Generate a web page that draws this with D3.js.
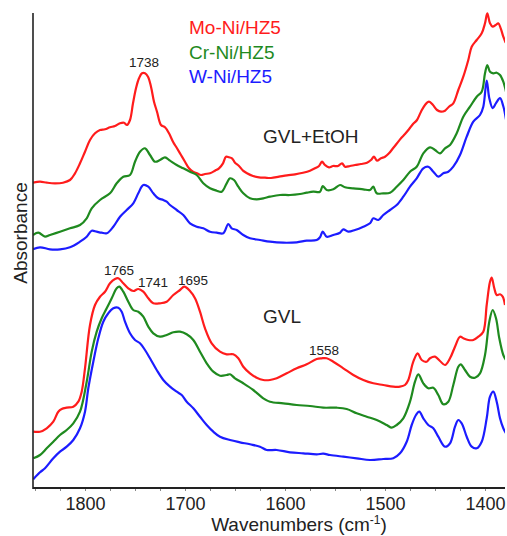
<!DOCTYPE html>
<html><head><meta charset="utf-8">
<script src="https://cdn.jsdelivr.net/npm/d3@7"></script>
<style>
html,body{margin:0;padding:0;background:#fff;}
text{font-family:"Liberation Sans",Arial,sans-serif;}
</style></head>
<body><div id="chart"></div>
<script>
// ---- data: [wavenumber (cm-1), absorbance (a.u., offset)] ----
const etohMo = [[1852,3.053],[1845,3.063],[1838,3.053],[1830,3.047],[1822,3.053],[1815,3.08],[1810,3.147],[1805,3.247],[1800,3.363],[1795,3.48],[1790,3.547],[1785,3.58],[1780,3.587],[1775,3.607],[1770,3.62],[1765,3.647],[1761,3.653],[1758,3.63],[1755,3.68],[1752,3.847],[1749,3.997],[1746,4.097],[1743,4.147],[1740,4.147],[1737,4.113],[1734,4.013],[1731,3.863],[1728,3.763],[1724,3.63],[1720,3.607],[1716,3.547],[1712,3.463],[1708,3.397],[1704,3.33],[1700,3.263],[1696,3.197],[1692,3.163],[1688,3.147],[1684,3.13],[1680,3.14],[1675,3.147],[1670,3.173],[1666,3.197],[1662,3.247],[1659,3.313],[1656,3.307],[1653,3.297],[1650,3.253],[1646,3.22],[1642,3.173],[1638,3.147],[1632,3.12],[1626,3.107],[1620,3.103],[1614,3.1],[1606,3.113],[1598,3.127],[1590,3.137],[1582,3.153],[1575,3.173],[1570,3.197],[1566,3.22],[1563,3.263],[1560,3.23],[1556,3.207],[1552,3.22],[1547,3.22],[1543,3.247],[1540,3.213],[1535,3.22],[1530,3.23],[1524,3.24],[1518,3.253],[1514,3.28],[1511,3.313],[1508,3.273],[1504,3.297],[1500,3.313],[1496,3.347],[1492,3.397],[1488,3.447],[1484,3.497],[1480,3.54],[1476,3.587],[1472,3.64],[1468,3.68],[1464,3.763],[1460,3.83],[1456,3.863],[1452,3.83],[1448,3.78],[1444,3.763],[1440,3.773],[1436,3.813],[1431.7,3.847],[1426.7,3.98],[1421.7,4.113],[1416.7,4.28],[1413.3,4.413],[1408.3,4.48],[1403.3,4.547],[1400,4.647],[1397.7,4.747],[1395,4.647],[1392.3,4.613],[1389.3,4.63],[1386.7,4.647],[1384.3,4.597],[1381.7,4.513],[1379.3,4.453]];
const etohCr = [[1852,2.53],[1846.7,2.553],[1840,2.513],[1835,2.53],[1825,2.563],[1815,2.597],[1805,2.63],[1798.3,2.697],[1793.3,2.797],[1785,2.88],[1775,2.947],[1768.3,3.047],[1761.7,3.113],[1755,3.13],[1750,3.263],[1745,3.363],[1740,3.397],[1735,3.33],[1730,3.263],[1725,3.28],[1720,3.307],[1715,3.273],[1708.3,3.23],[1701.7,3.197],[1695,3.163],[1688.3,3.13],[1681.7,3.047],[1675,2.997],[1668.3,2.973],[1663.3,2.963],[1658.3,3.047],[1655,3.097],[1651,3.08],[1646.7,3.013],[1641.7,2.947],[1635,2.897],[1628.3,2.887],[1621.7,2.897],[1615,2.913],[1605,2.93],[1595,2.93],[1585,2.94],[1578.3,2.953],[1571.7,2.963],[1565,2.963],[1562.3,3.02],[1558.3,2.98],[1551.7,2.987],[1545,3.03],[1540,3.007],[1531.7,2.997],[1521.7,2.987],[1515,2.98],[1511.7,3.013],[1508.3,2.947],[1501.7,2.947],[1495,2.953],[1488.3,3.013],[1481.7,3.08],[1475,3.163],[1468.3,3.213],[1461.7,3.347],[1455,3.407],[1450,3.38],[1445,3.347],[1440,3.397],[1435,3.43],[1428.3,3.547],[1421.7,3.713],[1415,3.813],[1408.3,3.913],[1403.3,3.963],[1400,4.147],[1397.7,4.23],[1395,4.163],[1391.7,4.147],[1388.3,4.153],[1385,4.13],[1381.7,4.063],[1379,3.963]];
const etohW = [[1852,2.387],[1845,2.407],[1835,2.387],[1825,2.387],[1815,2.407],[1805,2.463],[1798.3,2.513],[1793.3,2.573],[1788.3,2.563],[1783.3,2.553],[1778.3,2.547],[1771.7,2.613],[1765,2.713],[1758.3,2.78],[1751.7,2.847],[1746.7,2.947],[1741.7,3.03],[1736.7,3.013],[1731.7,2.947],[1726.7,2.897],[1721.7,2.88],[1718.3,2.863],[1715,2.83],[1708.3,2.78],[1701.7,2.73],[1695,2.647],[1688.3,2.613],[1681.7,2.597],[1675,2.563],[1668.3,2.553],[1661.7,2.547],[1656.7,2.64],[1653.3,2.597],[1648.3,2.58],[1641.7,2.53],[1635,2.497],[1625,2.48],[1615,2.463],[1601.7,2.453],[1588.3,2.457],[1578.3,2.473],[1568.3,2.48],[1565,2.507],[1562.3,2.563],[1558.3,2.513],[1551.7,2.53],[1545,2.553],[1541.7,2.587],[1536.7,2.563],[1530,2.58],[1521.7,2.613],[1515,2.647],[1511.7,2.697],[1506.7,2.68],[1501.7,2.73],[1495,2.78],[1488.3,2.83],[1481.7,2.913],[1475,3.013],[1468.3,3.097],[1461.7,3.197],[1456.7,3.213],[1451.7,3.163],[1446.7,3.113],[1441.7,3.147],[1436.7,3.163],[1431.7,3.213],[1425,3.33],[1418.3,3.513],[1411.7,3.663],[1405,3.73],[1401.7,3.813],[1398.3,4.073],[1395.7,3.898],[1392.3,3.798],[1389,3.848],[1385,3.898],[1381.7,3.817],[1379,3.683]];
const gvlMo = [[1851.7,0.563],[1845,0.563],[1838.3,0.597],[1831.7,0.663],[1826.7,0.763],[1823.3,0.79],[1818.3,0.803],[1811.7,0.813],[1806.7,0.863],[1803.3,0.963],[1800,1.197],[1795,1.63],[1790,1.83],[1785,1.913],[1780,1.963],[1775,2.047],[1770,2.09],[1766.7,2.097],[1761.7,2.047],[1756.7,1.997],[1751.7,1.97],[1746.7,1.99],[1741.7,1.963],[1736.7,1.897],[1731.7,1.847],[1725,1.847],[1718.3,1.863],[1711.7,1.93],[1705,1.98],[1700.7,2.013],[1695,1.97],[1690,1.897],[1685,1.763],[1680,1.597],[1673.3,1.447],[1665,1.363],[1658.3,1.337],[1651.7,1.337],[1646.7,1.297],[1641.7,1.213],[1635,1.147],[1628.3,1.103],[1621.7,1.08],[1615,1.08],[1608.3,1.097],[1598.3,1.147],[1588.3,1.197],[1578.3,1.237],[1568.3,1.29],[1563.3,1.297],[1558.3,1.297],[1551.7,1.263],[1541.7,1.197],[1531.7,1.13],[1521.7,1.08],[1511.7,1.047],[1501.7,1.03],[1491.7,1.013],[1485,1.013],[1480,1.03],[1476.7,1.08],[1471.7,1.263],[1467.3,1.347],[1463.3,1.28],[1458.3,1.263],[1455,1.297],[1450,1.313],[1445,1.27],[1440,1.23],[1435,1.297],[1430,1.413],[1425,1.513],[1421.7,1.497],[1416.7,1.48],[1411.7,1.48],[1406.7,1.513],[1401.7,1.563],[1398.3,1.83],[1395,2.063],[1393.3,2.103],[1390.7,1.997],[1388.3,1.93],[1385,1.937],[1382.3,1.913],[1380,1.83]];
const gvlCr = [[1851.7,0.297],[1845,0.33],[1838.3,0.397],[1831.7,0.463],[1825,0.53],[1818.3,0.58],[1811.7,0.647],[1805,0.763],[1798.3,1.063],[1793.3,1.363],[1788.3,1.563],[1783.3,1.697],[1778.3,1.797],[1773.3,1.897],[1768.3,1.997],[1765.7,2.013],[1761.7,1.963],[1756.7,1.863],[1751.7,1.78],[1746.7,1.763],[1741.7,1.713],[1736.7,1.613],[1731.7,1.547],[1725,1.513],[1718.3,1.53],[1711.7,1.557],[1705,1.563],[1698.3,1.537],[1691.7,1.48],[1685,1.363],[1678.3,1.247],[1671.7,1.163],[1665,1.123],[1658.3,1.13],[1655,1.137],[1650,1.097],[1641.7,1.047],[1631.7,0.98],[1621.7,0.897],[1615,0.863],[1601.7,0.847],[1588.3,0.83],[1575,0.82],[1561.7,0.803],[1548.3,0.803],[1538.3,0.79],[1528.3,0.747],[1518.3,0.713],[1508.3,0.68],[1498.3,0.63],[1493.3,0.603],[1488.3,0.63],[1481.7,0.697],[1475,0.863],[1470,1.063],[1466.7,1.137],[1461.7,1.047],[1456.7,0.997],[1451.7,1.003],[1446.7,0.93],[1441.7,0.837],[1436.7,0.863],[1431.7,1.03],[1426.7,1.213],[1424.3,1.237],[1420,1.18],[1415,1.113],[1410,1.103],[1405,1.147],[1400,1.33],[1395.7,1.663],[1392.3,1.78],[1389,1.697],[1385.7,1.497],[1381.7,1.33],[1379,1.28]];
const gvlW = [[1851.7,0.087],[1845,0.157],[1840,0.197],[1831.7,0.297],[1825,0.363],[1818.3,0.413],[1811.7,0.48],[1805,0.597],[1800,0.763],[1796.7,0.997],[1791.7,1.263],[1786.7,1.497],[1781.7,1.663],[1776.7,1.747],[1771.7,1.797],[1766.7,1.803],[1763.3,1.763],[1760,1.663],[1755,1.547],[1750,1.48],[1745,1.447],[1740,1.38],[1735,1.297],[1728.3,1.18],[1721.7,1.08],[1715,1.013],[1708.3,0.963],[1703.3,0.93],[1698.3,0.863],[1691.7,0.797],[1685,0.713],[1678.3,0.63],[1671.7,0.563],[1665,0.513],[1655,0.48],[1645,0.457],[1635,0.437],[1625,0.413],[1618.3,0.38],[1608.3,0.38],[1595,0.357],[1581.7,0.347],[1568.3,0.337],[1561.7,0.343],[1555,0.33],[1541.7,0.313],[1528.3,0.297],[1515,0.28],[1501.7,0.29],[1491.7,0.297],[1485,0.347],[1478.3,0.463],[1473.3,0.63],[1469,0.73],[1465.7,0.763],[1461.7,0.697],[1456.7,0.63],[1451.7,0.597],[1446.7,0.513],[1440,0.413],[1435,0.447],[1430,0.613],[1426.7,0.68],[1423.3,0.647],[1418.3,0.513],[1413.3,0.413],[1408.3,0.397],[1403.3,0.463],[1398.3,0.697],[1395,0.913],[1391.7,0.963],[1388.3,0.863],[1385,0.697],[1381.7,0.597],[1379,0.547]];

const seriesNames = ["Mo-Ni/HZ5","Cr-Ni/HZ5","W-Ni/HZ5"];
const seriesColors = ["#ff1c1c","#1f8a1f","#1c1cff"];
const xTickValues = [1800,1700,1600,1500,1400];
const xMinorTicks = d3.range(1850, 1379, -25);
const panelLabels = [{text:"GVL+EtOH", w:1622, a:3.45},{text:"GVL", w:1622, a:1.65}];
const peakLabels = [{text:"1738", w:1741, a:4.21},{text:"1765", w:1766, a:2.13},{text:"1741", w:1732, a:2.01},{text:"1695", w:1692, a:2.03},{text:"1558", w:1561, a:1.33}];

// ---- layout ----
const W = 507, H = 536;
const x = d3.scaleLinear().domain([1852, 1380]).range([33, 505]);
const y = d3.scaleLinear().domain([0, 4.75]).range([488, 13]);

const svg = d3.select("#chart").append("svg").attr("width", W).attr("height", H);
svg.append("defs").append("clipPath").attr("id","plot")
  .append("rect").attr("x",33).attr("y",0).attr("width",472).attr("height",488);

const line = d3.line().x(d=>x(d[0])).y(d=>y(d[1])).curve(d3.curveCatmullRom.alpha(0.5));
const groups = [[etohMo, gvlMo],[etohCr, gvlCr],[etohW, gvlW]];
const g = svg.append("g").attr("clip-path","url(#plot)");
groups.forEach((pair,i)=>{
  pair.forEach(data=>{
    g.append("path").datum(data).attr("d", line)
      .attr("fill","none").attr("stroke", seriesColors[i])
      .attr("stroke-width",2.2).attr("stroke-linejoin","round");
  });
});

// axes
const xAxisMinor = d3.axisBottom(x).tickValues(xMinorTicks).tickSize(3).tickFormat("");
svg.append("g").attr("transform","translate(0,488)").call(xAxisMinor)
  .call(s=>{s.select(".domain").remove(); s.selectAll("line").attr("stroke","#888");});
const xAxis = d3.axisBottom(x).tickValues(xTickValues).tickSize(0).tickPadding(7).tickFormat(d3.format("d"));
svg.append("g").attr("transform","translate(0,488)").call(xAxis)
  .call(s=>{
    s.select(".domain").remove();
    s.selectAll("text").attr("font-size",18).attr("fill","#222").attr("font-family","Liberation Sans, Arial, sans-serif").attr("dy","0.85em");
  });
svg.append("line").attr("x1",33).attr("x2",505).attr("y1",488).attr("y2",488).attr("stroke","#222").attr("stroke-width",2);
svg.append("line").attr("x1",33).attr("x2",33).attr("y1",13).attr("y2",489).attr("stroke","#222").attr("stroke-width",1.6);

// axis titles
const xt = svg.append("text").attr("x",299).attr("y",531).attr("text-anchor","middle")
  .attr("font-size",19).attr("fill","#222");
xt.append("tspan").text("Wavenumbers (cm");
xt.append("tspan").attr("font-size",12).attr("dy",-7).text("-1");
xt.append("tspan").attr("dy",7).text(")");
svg.append("text").attr("transform","translate(27,233) rotate(-90)").attr("text-anchor","middle")
  .attr("font-size",19).attr("fill","#222").text("Absorbance");

// legend
seriesNames.forEach((n,i)=>{
  svg.append("text").attr("x",189).attr("y",34+i*24.5).attr("font-size",19)
    .attr("fill",seriesColors[i]).text(n);
});

// annotations
panelLabels.forEach(p=>{
  svg.append("text").attr("x",x(p.w)).attr("y",y(p.a)).attr("font-size",19).attr("fill","#222").text(p.text);
});
peakLabels.forEach(p=>{
  svg.append("text").attr("x",x(p.w)).attr("y",y(p.a)).attr("text-anchor","middle")
    .attr("font-size",13.5).attr("fill","#222").text(p.text);
});
</script></body></html>
